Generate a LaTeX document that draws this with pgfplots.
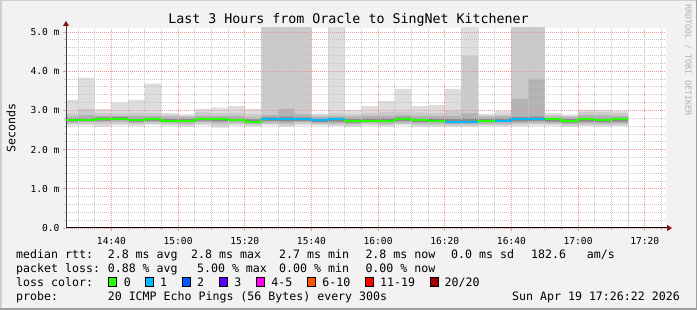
\documentclass[border=0pt]{standalone}
\usepackage{fontspec}
\setmainfont{DejaVu Sans Mono}
\usepackage{pgfplots}
\pgfplotsset{compat=1.18}
\usepackage{pgfplotstable}
\usetikzlibrary{arrows.meta}

\definecolor{bgc}{HTML}{F2F2F2}
\definecolor{shadea}{HTML}{CFCFCF}
\definecolor{shadeb}{HTML}{9E9E9E}
\definecolor{gridc}{RGB}{198,198,198}
\definecolor{mgridc}{RGB}{236,150,150}
\definecolor{arrowc}{HTML}{8B1010}
\definecolor{cA}{HTML}{DDDDDD}
\definecolor{cB}{HTML}{CACACA}
\definecolor{cC}{HTML}{B2B2B2}
\definecolor{cD}{HTML}{8A8A8A}
\definecolor{lzero}{HTML}{26FF00}
\definecolor{lone}{HTML}{00B8FF}
\definecolor{ltwo}{HTML}{0059FF}
\definecolor{lthree}{HTML}{5E00FF}
\definecolor{lfour}{HTML}{FF00EA}
\definecolor{lsix}{HTML}{FF5500}
\definecolor{leleven}{HTML}{FF0000}
\definecolor{ltwenty}{HTML}{A10000}
\definecolor{wmark}{HTML}{B0B0B0}

\newcommand\lf{\fontsize{11.6}{13}\selectfont}

% minutes after 14:00; smoke layers (lo1<lo2<lo3<lo4<hi4<hi3<hi2<hi1), median in ms
\pgfplotstableread{
x     lo1  lo2  lo3  lo4  hi4  hi3  hi2  hi1  med
26.37 2.61 2.65 2.69 2.72 2.80 2.84 2.92 3.27 2.76
30    2.62 2.66 2.70 2.73 2.81 2.88 3.04 3.83 2.76
35    2.58 2.64 2.70 2.74 2.82 2.86 2.93 3.03 2.79
40    2.62 2.66 2.71 2.75 2.83 2.86 2.92 3.20 2.79
45    2.60 2.64 2.68 2.71 2.81 2.86 2.94 3.27 2.76
50    2.63 2.66 2.70 2.73 2.81 2.85 2.93 3.68 2.77
55    2.61 2.64 2.68 2.71 2.79 2.84 2.88 2.93 2.74
60    2.58 2.62 2.66 2.70 2.79 2.83 2.86 2.90 2.74
65    2.62 2.66 2.70 2.74 2.81 2.86 2.95 3.04 2.77
70    2.56 2.62 2.68 2.72 2.81 2.85 2.92 3.07 2.77
75    2.61 2.65 2.69 2.73 2.80 2.86 2.94 3.11 2.76
80    2.59 2.62 2.65 2.68 2.77 2.82 2.90 3.04 2.70
85    2.62 2.65 2.69 2.73 2.82 2.88 5.20 5.20 2.77
90    2.58 2.62 2.67 2.72 2.84 3.04 5.20 5.20 2.77
95    2.62 2.66 2.70 2.73 2.82 2.90 5.20 5.20 2.77
100   2.61 2.64 2.67 2.70 2.80 2.84 2.87 2.91 2.76
105   2.60 2.63 2.67 2.71 2.81 2.85 2.92 5.20 2.77
110   2.57 2.61 2.65 2.69 2.79 2.84 2.90 3.01 2.74
115   2.61 2.64 2.68 2.71 2.80 2.86 2.93 3.11 2.74
120   2.59 2.62 2.66 2.70 2.80 2.86 2.96 3.24 2.74
125   2.62 2.65 2.69 2.73 2.82 2.88 2.97 3.55 2.77
130   2.58 2.62 2.66 2.70 2.80 2.86 2.95 3.11 2.76
135   2.58 2.62 2.66 2.70 2.80 2.85 2.93 3.14 2.74
140   2.58 2.61 2.64 2.68 2.78 2.86 3.00 3.55 2.70
145   2.58 2.61 2.64 2.68 2.80 2.92 4.39 5.20 2.70
150   2.60 2.63 2.66 2.70 2.79 2.84 2.87 2.91 2.74
155   2.59 2.62 2.66 2.70 2.80 2.85 2.90 2.98 2.74
160   2.60 2.64 2.68 2.72 2.83 3.29 5.20 5.20 2.77
165   2.61 2.65 2.69 2.73 2.84 3.80 5.20 5.20 2.77
170   2.61 2.64 2.68 2.71 2.80 2.84 2.88 2.93 2.77
175   2.58 2.61 2.65 2.69 2.79 2.83 2.86 2.89 2.74
180   2.60 2.63 2.67 2.71 2.81 2.88 2.96 3.01 2.77
185   2.59 2.62 2.66 2.70 2.80 2.87 2.95 3.01 2.76
190   2.60 2.63 2.67 2.71 2.81 2.86 2.93 2.98 2.77
195   2.60 2.63 2.67 2.71 2.81 2.86 2.93 2.98 2.77
}\smoke

\pgfplotsset{samebox/.style={
  at={(66pt,82pt)}, anchor=south west,
  scale only axis, width=600pt, height=200pt,
  xmin=26.37, xmax=206.37, ymin=0, ymax=5.1}}

\begin{document}
\begin{tikzpicture}[x=1pt,y=1pt]
\useasboundingbox (0,0) rectangle (697,310);
\fill[bgc] (0,0) rectangle (697,310);
\draw[shadea, line width=1.5pt] (0.75,0) -- (0.75,309.25) -- (697,309.25);
\draw[shadeb, line width=1.5pt] (0,0.75) -- (696.25,0.75) -- (696.25,310);

\begin{axis}[
  samebox,
  axis lines*=left,
  axis on top,
  axis background/.style={fill=white},
  x axis line style={black, line width=1pt, shorten >=-6pt, -{Triangle[length=5pt,width=6pt,color=arrowc]}},
  y axis line style={black!75, line width=1pt, shorten >=-7pt, -{Triangle[length=5pt,width=6pt,color=arrowc]}},
  xtick={40,60,80,100,120,140,160,180,200},
  xticklabels={14:40,15:00,15:20,15:40,16:00,16:20,16:40,17:00,17:20},
  minor xtick={30,35,45,50,55,65,70,75,85,90,95,105,110,115,125,130,135,145,150,155,165,170,175,185,190,195,205},
  ytick={0,1,2,3,4,5},
  yticklabels={0.0,1.0 m,2.0 m,3.0 m,4.0 m,5.0 m},
  minor ytick={0.2,0.4,0.6,0.8,1.2,1.4,1.6,1.8,2.2,2.4,2.6,2.8,3.2,3.4,3.6,3.8,4.2,4.4,4.6,4.8},
  grid=both,
  major grid style={mgridc, line width=0.7pt, dash pattern=on 1pt off 1pt},
  minor grid style={gridc, line width=0.7pt, dash pattern=on 1pt off 1pt},
  tick align=outside,
  major tick length=3pt, minor tick length=2pt,
  major tick style={mgridc, line width=0.8pt},
  minor tick style={gridc, line width=0.8pt},
  ticklabel style={font=\fontsize{9.6}{11}\selectfont, text=black},
  xticklabel style={anchor=base, yshift=-13.5pt},
]
\addplot[const plot, fill=cA, draw=none] table[x=x,y=hi1]{\smoke} \closedcycle;
\addplot[const plot, fill=cB, draw=none] table[x=x,y=hi2]{\smoke} \closedcycle;
\addplot[const plot, fill=cC, draw=none] table[x=x,y=hi3]{\smoke} \closedcycle;
\addplot[const plot, fill=cD, draw=none] table[x=x,y=hi4]{\smoke} \closedcycle;
\addplot[const plot, fill=cC, draw=none] table[x=x,y=lo4]{\smoke} \closedcycle;
\addplot[const plot, fill=cB, draw=none] table[x=x,y=lo3]{\smoke} \closedcycle;
\addplot[const plot, fill=cA, draw=none] table[x=x,y=lo2]{\smoke} \closedcycle;
\addplot[const plot, fill=white, draw=none] table[x=x,y=lo1]{\smoke} \closedcycle;
\end{axis}

\begin{axis}[samebox, hide axis]
\addplot[const plot, draw=lzero, line width=2pt] table[x=x,y=med]{\smoke};
\addplot[const plot, draw=lone, line width=2pt] coordinates {(85,2.77)(90,2.77)(95,2.77)(100,2.76)(105,2.77)(110,2.77)};
\addplot[const plot, draw=lone, line width=2pt] coordinates {(140,2.70)(145,2.70)(150,2.70)};
\addplot[const plot, draw=lone, line width=2pt] coordinates {(155,2.74)(160,2.77)(165,2.77)(170,2.77)};
\end{axis}

% title, labels
\node[anchor=base, inner sep=0] at (348.5,286.5) {\fontsize{13.3}{15}\selectfont Last 3 Hours from Oracle to SingNet Kitchener};
\node[rotate=90, inner sep=0] at (11,182) {\lf Seconds};
\node[rotate=-90, anchor=west, inner sep=0, text=wmark] at (688,306) {\fontsize{8.4}{9}\selectfont RRDTOOL / TOBI OETIKER};

% legend row 1
\node[anchor=base west, inner sep=0] at (16,51.5) {\lf median rtt:};
\node[anchor=base west, inner sep=0] at (107.6,51.5) {\lf 2.8 ms avg};
\node[anchor=base west, inner sep=0] at (191,51.5) {\lf 2.8 ms max};
\node[anchor=base west, inner sep=0] at (279,51.5) {\lf 2.7 ms min};
\node[anchor=base west, inner sep=0] at (365.3,51.5) {\lf 2.8 ms now};
\node[anchor=base west, inner sep=0] at (451,51.5) {\lf 0.0 ms sd};
\node[anchor=base west, inner sep=0] at (531,51.5) {\lf 182.6};
\node[anchor=base west, inner sep=0] at (586.7,51.5) {\lf am/s};
% legend row 2
\node[anchor=base west, inner sep=0] at (16,37.5) {\lf packet loss:};
\node[anchor=base west, inner sep=0] at (107.6,37.5) {\lf 0.88 \% avg};
\node[anchor=base west, inner sep=0] at (196.9,37.5) {\lf 5.00 \% max};
\node[anchor=base west, inner sep=0] at (279,37.5) {\lf 0.00 \% min};
\node[anchor=base west, inner sep=0] at (365.3,37.5) {\lf 0.00 \% now};
% legend row 3
\node[anchor=base west, inner sep=0] at (16,23.5) {\lf loss color:};
\filldraw[fill=lzero, draw=black, line width=0.8pt] (108.4,23.5) rectangle (116,32.5);
\node[anchor=base west, inner sep=0] at (123.6,23.5) {\lf 0};
\filldraw[fill=lone, draw=black, line width=0.8pt] (145.6,23.5) rectangle (153.2,32.5);
\node[anchor=base west, inner sep=0] at (160,23.5) {\lf 1};
\filldraw[fill=ltwo, draw=black, line width=0.8pt] (182.4,23.5) rectangle (190,32.5);
\node[anchor=base west, inner sep=0] at (196.9,23.5) {\lf 2};
\filldraw[fill=lthree, draw=black, line width=0.8pt] (219.8,23.5) rectangle (227.4,32.5);
\node[anchor=base west, inner sep=0] at (234.2,23.5) {\lf 3};
\filldraw[fill=lfour, draw=black, line width=0.8pt] (256.6,23.5) rectangle (264.2,32.5);
\node[anchor=base west, inner sep=0] at (271.1,23.5) {\lf 4-5};
\filldraw[fill=lsix, draw=black, line width=0.8pt] (307.8,23.5) rectangle (315.4,32.5);
\node[anchor=base west, inner sep=0] at (322.2,23.5) {\lf 6-10};
\filldraw[fill=leleven, draw=black, line width=0.8pt] (365.5,23.5) rectangle (373.1,32.5);
\node[anchor=base west, inner sep=0] at (380,23.5) {\lf 11-19};
\filldraw[fill=ltwenty, draw=black, line width=0.8pt] (430.4,23.5) rectangle (438,32.5);
\node[anchor=base west, inner sep=0] at (444.4,23.5) {\lf 20/20};
% legend row 4
\node[anchor=base west, inner sep=0] at (16,9.5) {\lf probe:};
\node[anchor=base west, inner sep=0] at (107.6,9.5) {\lf 20 ICMP Echo Pings (56 Bytes) every 300s};
\node[anchor=base east, inner sep=0] at (680,9.5) {\lf Sun Apr 19 17:26:22 2026};
\end{tikzpicture}
\end{document}
